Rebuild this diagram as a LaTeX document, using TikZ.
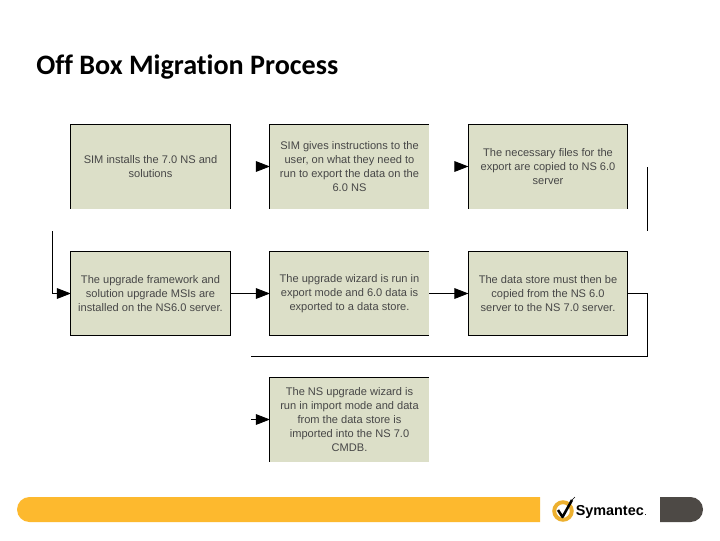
\documentclass[tikz,border=0pt]{standalone}
\usepackage{fontspec}
\setmainfont{Liberation Sans}
\newfontfamily\titlefont[Ligatures=NoCommon]{Carlito}
\usetikzlibrary{arrows.meta}
\definecolor{boxfill}{HTML}{DCDFC8}
\definecolor{barorange}{HTML}{FDB92E}
\definecolor{bardark}{HTML}{4D4945}
\definecolor{logogold}{HTML}{EDB02F}
\tikzset{
  flowbox/.style={fill=boxfill,draw=none,inner sep=0pt,minimum width=119pt,minimum height=63pt,align=center,font=\fontsize{8.3}{10.5}\selectfont,text=black!72},
  edgeline/.style={draw=black,line width=0.65pt},
  link/.style={draw=black,line width=0.65pt},
  linkarrow/.style={link,-{Triangle[length=10.5pt,width=8pt]}},
}
\begin{document}
\begin{tikzpicture}[x=0.75pt,y=-0.75pt]
\useasboundingbox (0,0) rectangle (720,540);
\fill[white] (0,0) rectangle (720,540);
\node[anchor=west,font=\titlefont\bfseries\fontsize{21.1}{25}\selectfont,inner sep=0pt] (title) at (36,67.5) {Off Box Migration Process};

\node[flowbox] (b1) at (150.5,166.5) {SIM installs the 7.0 NS and\\solutions};
\node[flowbox] (b2) at (349.5,166.5) {SIM gives instructions to the\\user, on what they need to\\run to export the data on the\\6.0 NS};
\node[flowbox] (b3) at (548,166.5) {The necessary files for the\\export are copied to NS 6.0\\server};
\node[flowbox] (b4) at (150.5,293.5) {The upgrade framework and\\solution upgrade MSIs are\\installed on the NS6.0 server.};
\node[flowbox] (b5) at (349.5,293.5) {The upgrade wizard is run in\\export mode and 6.0 data is\\exported to a data store.};
\node[flowbox] (b6) at (548,293.5) {The data store must then be\\copied from the NS 6.0\\server to the NS 7.0 server.};
\node[flowbox] (b7) at (349.5,419.5) {The NS upgrade wizard is\\run in import mode and data\\from the data store is\\imported into the NS 7.0\\CMDB.};

\draw[edgeline] (b1.south west) -- (b1.north west) -- (b1.north east) -- (b1.south east);
\draw[edgeline] (b2.south west) -- (b2.north west) -- (b2.north east);
\draw[edgeline] (b3.south west) -- (b3.north west) -- (b3.north east) -- (b3.south east);
\draw[edgeline] (b4.north west) rectangle (b4.south east);
\draw[edgeline] (b5.north east) -- (b5.north west) -- (b5.south west) -- (b5.south east);
\draw[edgeline] (b6.north west) rectangle (b6.south east);
\draw[edgeline] (b7.south west) -- (b7.north west) -- (b7.north east);

\coordinate (a12) at (256,166.5);
\coordinate (a23) at (455,166.5);
\coordinate (c3a) at (647,167);
\coordinate (c3b) at (647,231);
\coordinate (c4a) at (52.5,231);
\coordinate (c4b) at (52.5,293.5);
\coordinate (c6a) at (647,293.5);
\coordinate (c6b) at (647,356.5);
\coordinate (c6c) at (251,356.5);
\coordinate (c7a) at (251,419.5);

\draw[linkarrow] (a12) -- (b2.west);
\draw[linkarrow] (a23) -- (b3.west);
\draw[link] (c3a) -- (c3b);
\draw[linkarrow] (c4a) -- (c4b) -- (b4.west);
\draw[linkarrow] (b4.east) -- (b5.west);
\draw[linkarrow] (b5.east) -- (b6.west);
\draw[link] (b6.east) -- (c6a) -- (c6b) -- (c6c);
\draw[linkarrow] (c7a) -- (b7.west);

% footer
\fill[barorange] (540,497) -- (29.5,497) arc[start angle=270,end angle=90,radius=12.5] -- (540,522) -- cycle;
\fill[bardark] (660,497) -- (690.5,497) arc[start angle=-90,end angle=90,radius=12.5] -- (660,522) -- cycle;

% logo
\draw[logogold,line width=2.9pt] (563,511) circle[radius=8.8];
\draw[black,line width=1.9pt,line join=round] (558,510) -- (562.5,517) -- (572,500);
\draw[black,line width=0.5pt] (572,500) -- (575,497);
\node[anchor=west,inner sep=0pt,font=\bfseries\fontsize{10.8}{13}\selectfont,text=black] (logo) at (575.5,512) {Symantec};
\node[anchor=base west,inner sep=0pt,font=\fontsize{7}{8}\selectfont,text=black] (dot) at (logo.base east) {.};
\end{tikzpicture}
\end{document}
